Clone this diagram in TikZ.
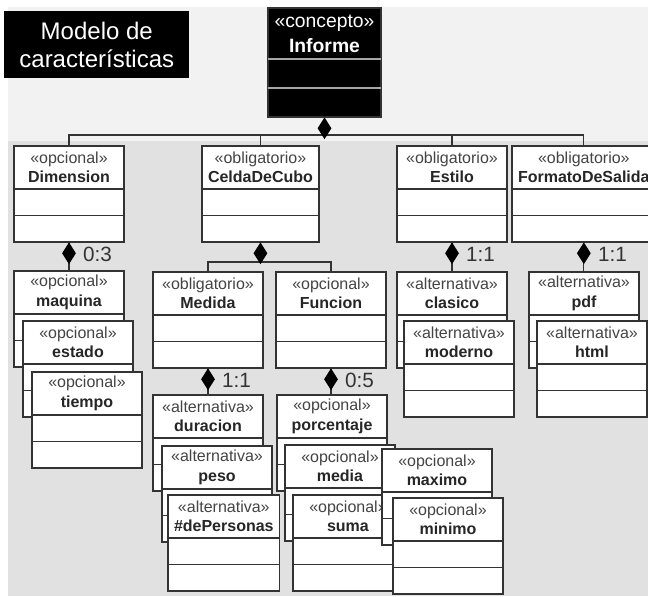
\documentclass[tikz,border=0pt]{standalone}
\usepackage{fontspec}
\setmainfont{Liberation Sans}
\usetikzlibrary{shapes.geometric,positioning,calc}
\definecolor{lineagris}{HTML}{333333}
\definecolor{fondoclaro}{HTML}{F2F2F2}
\definecolor{fondo}{HTML}{E1E1E1}
\definecolor{textogris}{HTML}{444444}

% caja de caracteristica: nombre, esquina, estereotipo, titulo
\newcommand{\caja}[4]{
\node[cab, anchor=north west] (#1) at (#2) {{\color{textogris}«#3»}\\\textbf{#4}};
\draw[linea, fill=white] (#1.south west) rectangle ($(#1.south east)+(0,53)$);
\draw[linea] ($(#1.south west)+(0,26.5)$) -- ($(#1.south east)+(0,26.5)$);
\coordinate (#1-b) at ($(#1.south)+(0,53)$);
}

\begin{document}
\begin{tikzpicture}[x=0.75pt,y=-0.75pt,
  linea/.style={draw=lineagris, line width=0.9pt},
  cab/.style={linea, fill=white, align=center, minimum width=82.5pt, minimum height=32.25pt,
    inner xsep=4.5pt, inner ysep=0pt, outer sep=0pt, text=black!85,
    font=\fontsize{12}{14.5}\selectfont},
  comp/.style={diamond, fill=black, minimum width=10.5pt, minimum height=16.5pt, inner sep=0pt},
  mult/.style={inner sep=1pt, text=black!80, font=\fontsize{15.5}{18}\selectfont},
  titulo/.style={fill=black, text=white, align=center, minimum width=138.75pt,
    minimum height=50.25pt, inner sep=0pt, font=\fontsize{18}{21}\selectfont},
  concepto/.style={linea, fill=black, text=white, align=center, minimum width=84.75pt,
    minimum height=38.25pt, inner sep=0pt, outer sep=0pt, font=\fontsize{14.5}{18.75}\selectfont}]
\useasboundingbox (0,0) rectangle (648,596);
\fill[white] (0,0) rectangle (648,596);
\fill[fondoclaro] (8,7) rectangle (648,141);
\fill[fondo] (8,141) rectangle (648,596);
\clip (0,0) rectangle (648,596);

\node[titulo, anchor=north west] (tit) at (4,11) {Modelo de\\características};

% concepto raiz
\node[concepto, anchor=north west] (inf) at (268,8) {«concepto»\\\textbf{Informe}};
\draw[linea, fill=black] (inf.south west) rectangle ($(inf.south east)+(0,58)$);
\draw[gray!70, line width=0.9pt] (inf.south west) -- (inf.south east);
\draw[gray!70, line width=0.9pt] ($(inf.south west)+(0,29)$) -- ($(inf.south east)+(0,29)$);
\coordinate (inf-b) at ($(inf.south)+(0,58)$);

% primer nivel
\caja{dim}{14,146}{opcional}{Dimension}
\caja{cel}{202,146}{obligatorio}{CeldaDeCubo}
\caja{est}{397,146}{obligatorio}{Estilo}
\caja{fmt}{512,146}{obligatorio}{FormatoDeSalida}

% segundo nivel
\caja{maq}{14,271}{opcional}{maquina}
\caja{eda}{23,321}{opcional}{estado}
\caja{tie}{32,372}{opcional}{tiempo}
\caja{med}{153,272}{obligatorio}{Medida}
\caja{fun}{276,272}{opcional}{Funcion}
\caja{cla}{397,272}{alternativa}{clasico}
\caja{mod}{404,321}{alternativa}{moderno}
\caja{pdf}{529,272}{alternativa}{pdf}
\caja{htm}{537,321}{alternativa}{html}

% tercer nivel
\caja{dur}{153,395}{alternativa}{duracion}
\caja{pes}{162,446}{alternativa}{peso}
\caja{dep}{168,495}{alternativa}{\#dePersonas}
\caja{por}{277,395}{opcional}{porcentaje}
\caja{mda}{285,445}{opcional}{media}
\caja{sum}{293,495}{opcional}{suma}
\caja{max}{382,449}{opcional}{maximo}
\caja{min}{393,498}{opcional}{minimo}

% conectores
\coordinate (busInf) at (0,135);
\coordinate (busCel) at (0,262);
\draw[linea] (inf-b) -- (inf-b |- busInf);
\draw[linea] (dim.north) |- (fmt.north |- busInf) -- (fmt.north);
\draw[linea] (cel.north) -- (cel.north |- busInf);
\draw[linea] (est.north) -- (est.north |- busInf);
\draw[linea] (cel-b) -- (cel-b |- busCel);
\draw[linea] (med.north) |- (fun.north |- busCel) -- (fun.north);
\draw[linea] (dim-b) -- (dim-b |- maq.north);
\draw[linea] (est-b) -- (est-b |- cla.north);
\draw[linea] (fmt-b) -- (fmt-b |- pdf.north);
\draw[linea] (med-b) -- (med-b |- dur.north);
\draw[linea] (fun-b) -- (fun-b |- por.north);

% rombos de composicion
\node[comp, anchor=north] (dInf) at (inf-b) {};
\node[comp, anchor=north] (dDim) at (dim-b) {};
\node[comp, anchor=north] (dCel) at (cel-b) {};
\node[comp, anchor=north] (dEst) at (est-b) {};
\node[comp, anchor=north] (dFmt) at (fmt-b) {};
\node[comp, anchor=north] (dMed) at (med-b) {};
\node[comp, anchor=north] (dFun) at (fun-b) {};

% multiplicidades
\node[mult, right=4pt of dDim, yshift=-1pt] (mDim) {0:3};
\node[mult, right=4pt of dEst, yshift=-1pt] (mEst) {1:1};
\node[mult, right=4pt of dFmt, yshift=-1pt] (mFmt) {1:1};
\node[mult, right=4pt of dMed, yshift=-1pt] (mMed) {1:1};
\node[mult, right=4pt of dFun, yshift=-1pt] (mFun) {0:5};

\end{tikzpicture}
\end{document}
